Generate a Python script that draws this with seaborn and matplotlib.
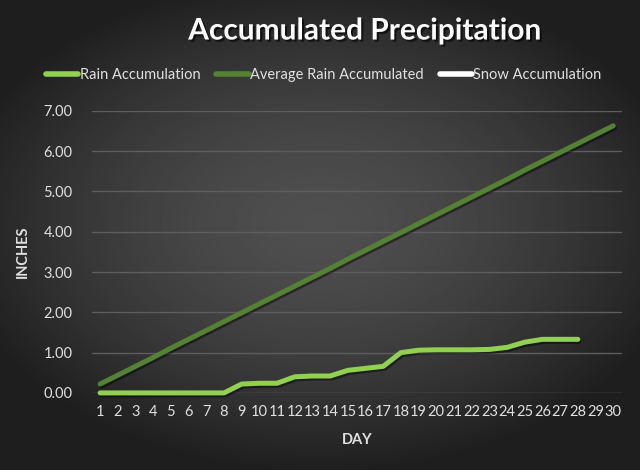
import numpy as np
import pandas as pd
import matplotlib
matplotlib.use("Agg")
import matplotlib.pyplot as plt
import matplotlib.patheffects as pe
from matplotlib.lines import Line2D
import seaborn as sns

# ------------------------------------
# Data
# ------------------------------------

days = list(range(1, 31))

rain_accumulation = [
    0.00, 0.00, 0.00, 0.00, 0.00, 0.00, 0.00, 0.00, 0.22, 0.24,
    0.24, 0.40, 0.42, 0.42, 0.56, 0.61, 0.66, 1.00, 1.06, 1.07,
    1.07, 1.07, 1.08, 1.13, 1.26, 1.33, 1.33, 1.33, np.nan, np.nan,
]

average_rain = [
    0.22, 0.44, 0.66, 0.88, 1.11, 1.33, 1.55, 1.77, 1.99, 2.21,
    2.43, 2.65, 2.87, 3.09, 3.32, 3.54, 3.76, 3.98, 4.20, 4.42,
    4.64, 4.86, 5.08, 5.30, 5.53, 5.75, 5.97, 6.19, 6.41, 6.63,
]

snow_accumulation = [np.nan] * 30

series_names = ["Rain Accumulation", "Average Rain Accumulated", "Snow Accumulation"]
series_colors = ["#92d050", "#548235", "#ffffff"]
y_ticks = [0, 1, 2, 3, 4, 5, 6, 7]

df = pd.DataFrame({
    "day": days,
    series_names[0]: rain_accumulation,
    series_names[1]: average_rain,
    series_names[2]: snow_accumulation,
})

# ------------------------------------
# Style
# ------------------------------------

sns.set_style("dark")
plt.rcParams["font.family"] = ["Lato", "DejaVu Sans"]

text_color = "#e0e0e0"

fig = plt.figure(figsize=(6.4, 4.7), dpi=100)

# radial gradient background
bg_ax = fig.add_axes([0, 0, 1, 1], zorder=-10)
gx, gy = np.meshgrid(np.linspace(-1, 1, 320), np.linspace(-1, 1, 235))
r = np.sqrt((gx * 0.95) ** 2 + ((gy + 0.05) * 1.05) ** 2)
shade = np.clip(0.31 - 0.16 * r ** 1.6, 0.12, 0.35)
bg_ax.imshow(shade, cmap="gray", vmin=0, vmax=1, aspect="auto",
             extent=[0, 1, 0, 1], interpolation="bilinear")
bg_ax.axis("off")

ax = fig.add_axes([0.144, 0.164, 0.828, 0.6])
ax.set_facecolor("none")

shadow = [pe.SimpleLineShadow(offset=(1, -1.5), shadow_color="black", alpha=0.45),
          pe.Normal()]

for name, color in zip(series_names[:2][::-1], series_colors[:2][::-1]):
    sns.lineplot(
        data=df,
        x="day",
        y=name,
        color=color,
        linewidth=3.6,
        ax=ax,
        clip_on=False,
        solid_capstyle="round",
        path_effects=shadow,
    )

ax.set_xlim(0.55, 30.5)
ax.set_ylim(0, 7)
ax.set_xticks(days)
ax.set_xticklabels([str(d) for d in days], fontsize=10.5, color=text_color)
ax.set_yticks(y_ticks)
ax.set_yticklabels([f"{v:.2f}" for v in y_ticks], fontsize=10.5, color=text_color)
ax.tick_params(axis="both", length=0)
ax.tick_params(axis="x", pad=9)
ax.tick_params(axis="y", pad=14)

ax.grid(axis="y", color="#5e5e5e", linewidth=1)
ax.grid(axis="x", visible=False)
for s in ax.spines.values():
    s.set_visible(False)

ax.set_xlabel("DAY", fontsize=10.5, fontweight="bold", color=text_color, labelpad=10)
ax.set_ylabel("INCHES", fontsize=10.5, fontweight="bold", color=text_color, labelpad=10)

# ------------------------------------
# Title and legend
# ------------------------------------

fig.text(
    0.57, 0.935,
    "Accumulated Precipitation",
    ha="center", va="center",
    fontsize=21.5, fontweight="bold", color="white",
    path_effects=[pe.withSimplePatchShadow(offset=(1.5, -1.5), shadow_rgbFace="black", alpha=0.6)],
)

handles = [
    Line2D([0], [0], color=c, linewidth=4, solid_capstyle="round")
    for c in series_colors
]
fig.legend(
    handles,
    series_names,
    loc="center",
    bbox_to_anchor=(0.506, 0.84),
    ncol=3,
    frameon=False,
    fontsize=10.5,
    labelcolor=text_color,
    handlelength=2.2,
    handletextpad=0.1,
    columnspacing=1.1,
)

plt.savefig("out.png", dpi=100)
plt.close()
